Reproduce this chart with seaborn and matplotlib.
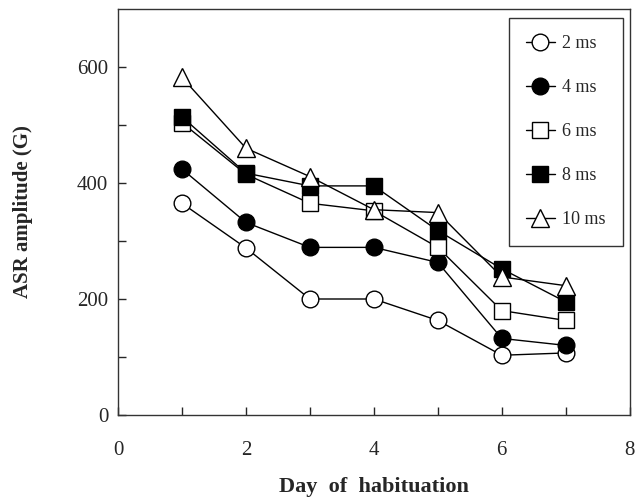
import numpy as np
import pandas as pd
import matplotlib.pyplot as plt
import seaborn as sns

days = [1, 2, 3, 4, 5, 6, 7]
ms2 = [365, 288, 200, 200, 163, 103, 107]
ms4 = [424, 332, 289, 289, 263, 132, 120]
ms6 = [504, 415, 365, 352, 289, 180, 163]
ms8 = [514, 417, 395, 395, 318, 252, 195]
ms10 = [582, 460, 411, 354, 349, 238, 223]
labels = ['2 ms', '4 ms', '6 ms', '8 ms', '10 ms']

sns.set_style("ticks")
plt.rcParams['font.family'] = ['Liberation Serif', 'DejaVu Serif']

series = [ms2, ms4, ms6, ms8, ms10]
markers = ['o', 'o', 's', 's', '^']
faces = ['white', 'black', 'white', 'black', 'white']
sizes = [12, 12, 12, 12, 13]

fig = plt.figure(figsize=(6.38, 5.0), dpi=100)
ax = fig.add_axes([0.185, 0.17, 0.802, 0.812])

for vals, lab, m, fc, ms in zip(series, labels, markers, faces, sizes):
    df = pd.DataFrame({'day': days, 'amp': vals})
    sns.lineplot(data=df, x='day', y='amp', ax=ax, color='black', lw=1,
                 marker=m, markersize=ms, markerfacecolor=fc,
                 markeredgecolor='black', markeredgewidth=1, label=lab)

ax.set_xlim(0, 8)
ax.set_ylim(0, 700)
ax.set_xticks([0, 2, 4, 6, 8])
ax.set_xticks([1, 3, 5, 7], minor=True)
ax.set_yticks([0, 200, 400, 600])
ax.set_yticks([100, 300, 500], minor=True)
ax.tick_params(which='both', direction='in', length=6, width=1, labelsize=15)
ax.tick_params(axis='x', pad=19)
ax.tick_params(axis='y', pad=7)
for s in ax.spines.values():
    s.set_visible(True)
    s.set_linewidth(1)
    s.set_color('#333333')

ax.set_xlabel('Day  of  habituation', fontsize=16, fontweight='bold', labelpad=12)
ax.set_ylabel('ASR amplitude (G)', fontsize=15, fontweight='bold', labelpad=32)

leg = ax.legend(loc='upper right', bbox_to_anchor=(0.986, 0.978), fontsize=13,
                frameon=True, fancybox=False, edgecolor='black',
                borderaxespad=0, handlelength=1.6, labelspacing=1.5,
                borderpad=0.95, handletextpad=0.4)
leg.get_frame().set_linewidth(1)

fig.savefig('out.png', dpi=100)
